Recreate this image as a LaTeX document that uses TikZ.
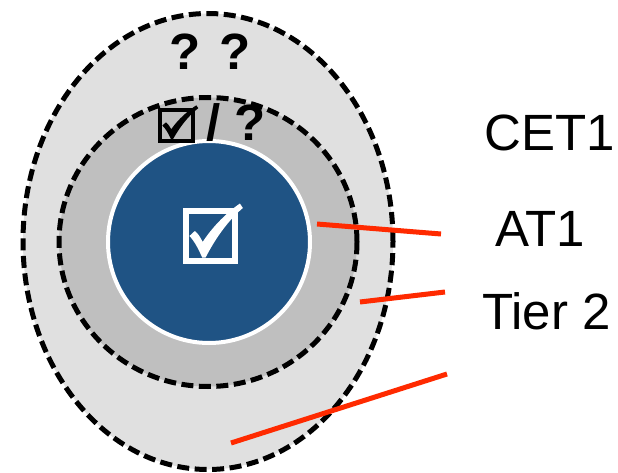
\documentclass[tikz,border=0pt]{standalone}
\usepackage{fontspec}
\setmainfont{Liberation Sans}
\usetikzlibrary{shapes.geometric}
\definecolor{outerfill}{HTML}{E0E0E0}
\definecolor{midfill}{HTML}{BFBFBF}
\definecolor{corefill}{HTML}{1F5384}
\definecolor{leader}{HTML}{FF2A00}
\newcommand{\mychk}[1]{%
  \fill[#1] (0.07,0.50) -- (0.18,0.40)
    .. controls (0.25,0.45) and (0.30,0.54) .. (0.34,0.62)
    .. controls (0.55,0.30) and (0.85,0.02) .. (1.10,-0.15)
    -- (1.16,-0.06)
    .. controls (0.85,0.20) and (0.60,0.55) .. (0.40,0.93)
    -- (0.33,0.93)
    .. controls (0.25,0.75) and (0.17,0.60) .. (0.07,0.50) -- cycle;}
\begin{document}
\begin{tikzpicture}[x=1pt,y=-1pt,
  ring/.style={ellipse, draw=black, line width=5pt, dash pattern=on 12pt off 5.5pt, inner sep=0pt},
  leaderline/.style={draw=leader, line width=5pt},
  lbl/.style={font=\fontsize{51}{60}\selectfont, anchor=base, inner sep=0pt},
  qmark/.style={font=\fontsize{51}{60}\selectfont\bfseries, inner sep=0pt}]
\useasboundingbox (0,0) rectangle (618,473);
\fill[white] (0,0) rectangle (618,473);
% rings
\node[ring, fill=outerfill, minimum width=370pt, minimum height=456pt] (outer) at (208,241.5) {};
\node[ring, fill=midfill, minimum width=298pt, minimum height=289pt] (middle) at (208,242) {};
\node[circle, draw=white, line width=4pt, fill=corefill, minimum size=202pt, inner sep=0pt] (core) at (209,242) {};
% center check box
\begin{scope}[shift={(186,211)}, x=49pt, y=-50pt]
  \draw[white, line width=6.5pt] (0,0) rectangle (1,1);
  \mychk{white}
\end{scope}
% small check box
\begin{scope}[shift={(160,110)}, x=33pt, y=-31pt]
  \draw[black, line width=4.5pt] (0,0) rectangle (1,1);
  \mychk{black}
\end{scope}
% question marks
\node[qmark, anchor=base] (qq) at (210.5,70) {? ?};
\node[qmark, anchor=base west] (sq) at (206,141) {/ ?};
% labels
\node[lbl] (cet1) at (549.5,151) {CET1};
\node[lbl] (at1) at (540,246) {AT1};
\node[lbl] (tier2) at (546.5,329) {Tier 2};
% leader lines
\coordinate (a1) at (317,224);
\coordinate (a2) at (441,234);
\coordinate (t1) at (360,302);
\coordinate (t2) at (445,292);
\coordinate (c1) at (231,443);
\coordinate (c2) at (447,374);
\draw[leaderline] (a1) -- (a2);
\draw[leaderline] (t1) -- (t2);
\draw[leaderline] (c1) -- (c2);
\end{tikzpicture}
\end{document}
